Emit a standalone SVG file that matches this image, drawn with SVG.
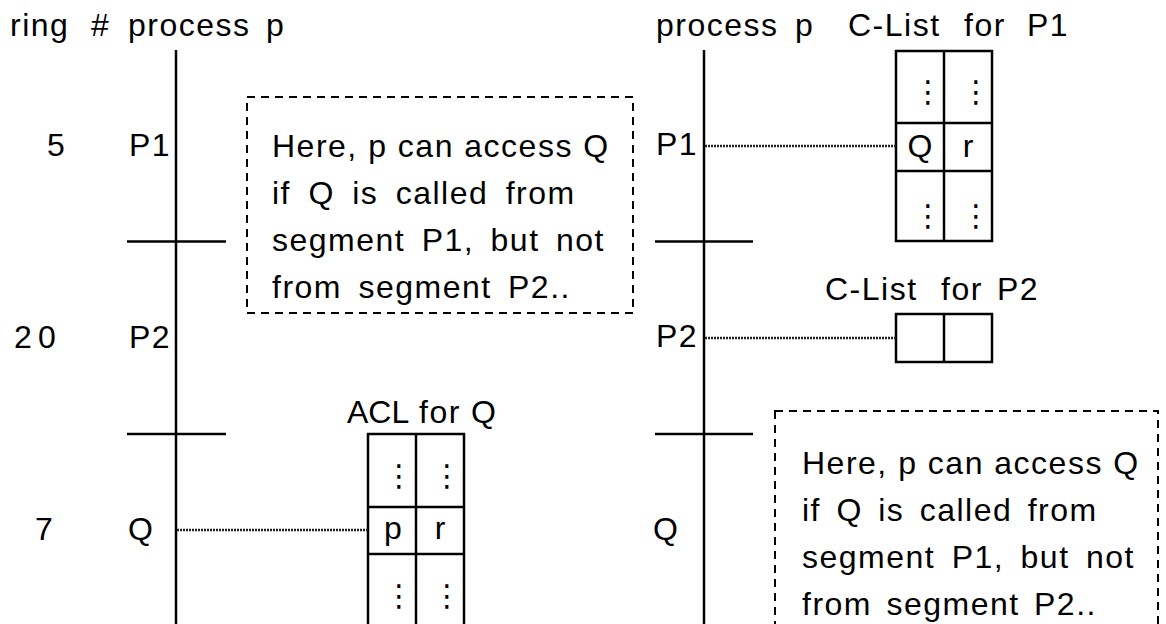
<svg xmlns="http://www.w3.org/2000/svg" width="1166" height="624" viewBox="0 0 1166 624">
<style>
text{font-family:"Liberation Sans",Arial,sans-serif;font-size:32px;fill:#000;letter-spacing:1.5px}
.ln{stroke:#000;stroke-width:2.5;fill:none}
.dash{stroke:#000;stroke-width:2;fill:none;stroke-dasharray:8 6}
.dot{stroke:#222;stroke-width:2.5;fill:none;stroke-dasharray:2 1}
.mid{text-anchor:middle;letter-spacing:0}
.vd{font-family:"DejaVu Sans",sans-serif;font-size:30px;text-anchor:middle;letter-spacing:0}
</style>
<rect width="1166" height="624" fill="#fff"/>
<g id="header-left">
<text y="36"><tspan x="10">ring</tspan><tspan x="91">#</tspan><tspan x="128">process</tspan><tspan x="266">p</tspan></text>
</g>
<g id="header-right">
<text y="36"><tspan x="656">process</tspan><tspan x="795">p</tspan><tspan x="848">C-List</tspan><tspan x="964">for</tspan><tspan x="1027">P1</tspan></text>
</g>
<g id="left-timeline">
<line class="ln" x1="176" y1="50" x2="176" y2="624"/>
<line class="ln" x1="127" y1="241.5" x2="226" y2="241.5"/>
<line class="ln" x1="127" y1="434" x2="226" y2="434"/>
<text x="47" y="156">5</text>
<text x="129" y="156">P1</text>
<text y="348"><tspan x="14">2</tspan><tspan x="38">0</tspan></text>
<text x="129" y="348">P2</text>
<text x="35" y="540">7</text>
<text x="128" y="540">Q</text>
</g>
<g id="right-timeline">
<line class="ln" x1="704" y1="50" x2="704" y2="624"/>
<line class="ln" x1="655" y1="241.5" x2="753" y2="241.5"/>
<line class="ln" x1="655" y1="434" x2="753" y2="434"/>
<text x="656" y="155">P1</text>
<text x="656" y="347">P2</text>
<text x="653" y="540">Q</text>
</g>
<g id="note-left">
<rect class="dash" x="247" y="97" width="386" height="216"/>
<text x="272" y="157">Here, p can access Q</text>
<text x="272" y="204" style="word-spacing:7px">if Q is called from</text>
<text x="272" y="251" style="word-spacing:6px">segment P1, but not</text>
<text x="272" y="298" style="word-spacing:6px">from segment P2..</text>
</g>
<g id="note-right">
<rect class="dash" x="775" y="411" width="383" height="230"/>
<text x="802" y="474">Here, p can access Q</text>
<text x="802" y="521" style="word-spacing:5px">if Q is called from</text>
<text x="802" y="568" style="word-spacing:6px">segment P1, but not</text>
<text x="802" y="615" style="word-spacing:4px">from segment P2..</text>
</g>
<g id="clist-p1">
<rect class="ln" x="896" y="51" width="96" height="190"/>
<line class="ln" x1="944" y1="51" x2="944" y2="241"/>
<line class="ln" x1="896" y1="123" x2="992" y2="123"/>
<line class="ln" x1="896" y1="171" x2="992" y2="171"/>
<text class="vd" x="928" y="102">⋮</text>
<text class="vd" x="976" y="102">⋮</text>
<text class="mid" x="920" y="157">Q</text>
<text class="mid" x="968" y="157">r</text>
<text class="vd" x="928" y="226">⋮</text>
<text class="vd" x="976" y="226">⋮</text>
</g>
<g id="clist-p2">
<text y="300"><tspan x="825">C-List</tspan><tspan x="941">for</tspan><tspan x="997">P2</tspan></text>
<rect class="ln" x="896" y="314" width="96" height="48"/>
<line class="ln" x1="944" y1="314" x2="944" y2="362"/>
</g>
<g id="acl-q">
<text y="423"><tspan x="347" style="letter-spacing:0">ACL</tspan><tspan x="419">for</tspan><tspan x="471">Q</tspan></text>
<rect class="ln" x="368" y="434" width="96" height="210"/>
<line class="ln" x1="416" y1="434" x2="416" y2="624"/>
<line class="ln" x1="368" y1="507" x2="464" y2="507"/>
<line class="ln" x1="368" y1="554" x2="464" y2="554"/>
<text class="vd" x="399" y="486">⋮</text>
<text class="vd" x="447" y="486">⋮</text>
<text class="mid" x="393" y="539">p</text>
<text class="mid" x="440" y="539">r</text>
<text class="vd" x="399" y="606">⋮</text>
<text class="vd" x="447" y="606">⋮</text>
</g>
<g id="connectors">
<line class="dot" x1="705" y1="146" x2="896" y2="146"/>
<line class="dot" x1="705" y1="338" x2="896" y2="338"/>
<line class="dot" x1="177" y1="530" x2="368" y2="530"/>
</g>
</svg>
